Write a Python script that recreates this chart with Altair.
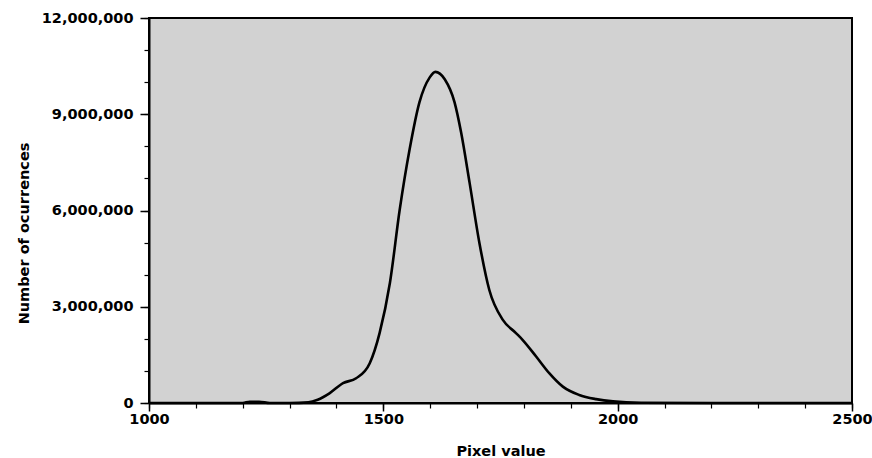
import altair as alt
import pandas as pd

pixel_value = [1000, 1100, 1200, 1215, 1235, 1258, 1300, 1340, 1360, 1385, 1414, 1442,
               1471, 1492, 1514, 1535, 1556, 1577, 1599, 1611, 1631, 1652, 1666, 1684,
               1705, 1726, 1755, 1783, 1797, 1826, 1854, 1883, 1918, 1954, 1990, 2050,
               2200, 2500]
occurrences = [0, 0, 0, 40000, 40000, 0, 0, 20000, 100000, 300000, 620000, 770000,
               1240000, 2180000, 3740000, 6030000, 7900000, 9370000, 10150000, 10320000,
               10090000, 9370000, 8430000, 6870000, 4990000, 3530000, 2590000, 2180000,
               1970000, 1450000, 930000, 510000, 250000, 120000, 50000, 10000, 0, 0]

major_x = [1000, 1500, 2000, 2500]
minor_x = list(range(1000, 2501, 100))
major_y = [0, 3000000, 6000000, 9000000, 12000000]
minor_y = list(range(0, 12000001, 1000000))

df = pd.DataFrame({"x": pixel_value, "y": occurrences})

FONT = "DejaVu Sans"
xscale = alt.Scale(domain=[1000, 2500], nice=False, zero=False)
yscale = alt.Scale(domain=[0, 12000000], nice=False)

main = alt.Chart(df).mark_line(color="black", strokeWidth=2.6, interpolate="monotone").encode(
    x=alt.X("x:Q", scale=xscale, axis=alt.Axis(
        values=major_x, title="Pixel value", format="d", tickSize=8, tickWidth=1.5,
        domainColor="black", domainWidth=2, tickColor="black", grid=False,
        labelFont=FONT, labelFontSize=14.5, labelFontWeight="bold", labelColor="black",
        labelPadding=1, labelFlush=False, titleFont=FONT, titleFontSize=14.5,
        titleFontWeight="bold", titleColor="black", titlePadding=19)),
    y=alt.Y("y:Q", scale=yscale, axis=alt.Axis(
        values=major_y, title="Number of ocurrences", format=",d", tickSize=9, tickWidth=1.5,
        domainColor="black", domainWidth=2, tickColor="black", grid=False,
        labelFont=FONT, labelFontSize=14.5, labelFontWeight="bold", labelColor="black",
        labelPadding=7, labelFlush=False, titleFont=FONT, titleFontSize=14.5,
        titleFontWeight="bold", titleColor="black", titlePadding=10, titleY=215)),
)

minor = alt.Chart(df).mark_line(opacity=0).encode(
    x=alt.X("x:Q", scale=xscale, axis=alt.Axis(
        values=minor_x, orient="bottom", labels=False, title=None, tickSize=5,
        tickWidth=1.2, tickColor="black", domain=False, grid=False)),
    y=alt.Y("y:Q", scale=yscale, axis=alt.Axis(
        values=minor_y, orient="left", labels=False, title=None, tickSize=5,
        tickWidth=1.2, tickColor="black", domain=False, grid=False)),
)

chart = alt.layer(main, minor).resolve_axis(x="independent", y="independent").properties(
    width=703, height=385,
    autosize=alt.AutoSizeParams(type="none"),
    padding={"left": 149, "top": 18, "right": 20, "bottom": 55},
    background="white",
).configure_view(fill="#d2d2d2", stroke="black", strokeWidth=2)

chart.save("out.html", embed_options={"renderer": "svg", "actions": False})
